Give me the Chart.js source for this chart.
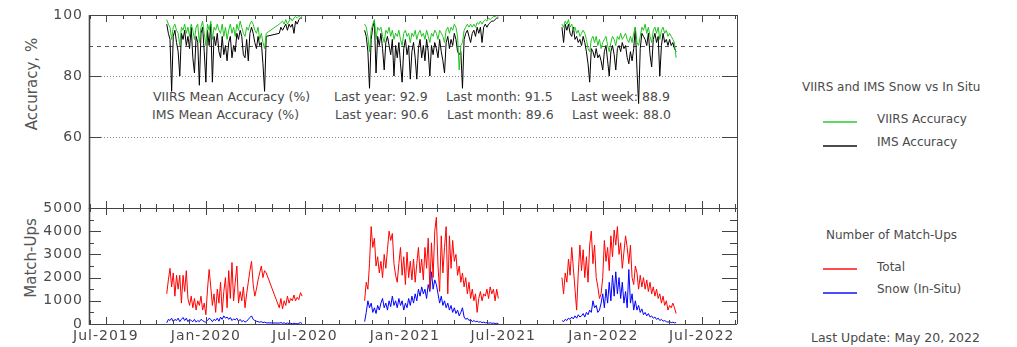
<!DOCTYPE html>
<html>
<head>
<meta charset="utf-8">
<script src="https://cdn.jsdelivr.net/npm/chart.js@4.4.1/dist/chart.umd.min.js"></script>
<style>
  html, body { margin: 0; padding: 0; background: #fff; }
  #wrap { position: relative; width: 1017px; height: 347px; overflow: hidden;
          font-family: 'DejaVu Sans', sans-serif; color: #4a4a4a; }
  #wrap canvas { position: absolute; left: 0; top: 0; }
  .t { position: absolute; white-space: pre; line-height: 1; }
  .sw { position: absolute; height: 2px; width: 34px; }
  .yt { position: absolute; white-space: nowrap; font-size: 15px; line-height: 1;
        transform: translate(-50%, -50%) rotate(-90deg); color: #555; }
</style>
</head>
<body>
<div id="wrap">
  <div id="texts"></div>
  <canvas id="acc" width="1017" height="347"></canvas>
  <canvas id="mu" width="1017" height="347"></canvas>
</div>
<script>
// ---- data: one value every 3 days from each season's first day ----
const seasonStarts = ['2019-10-21', '2020-10-19', '2021-10-17'];
const stepDays = 3;

// VIIRS / IMS snow accuracy vs in-situ (%)
const viirs2020 = [98.5,97,96,92,96,97,95,94,90,96, 95,97,94,96,93,97,95,92,96,97,
  91,96,98,94,90,97,95,98,92,96, 95,97,95,94,97,93,96,92,95,97,
  94,96,93,97,95,98,96,94,93,96, 95,97,98,97,95,94,96,92,94,91,
  89,94,null,null,null,null,null,null,null,97, 97.5,98,97,98.5,97,98,99,98,99,99.5,
  99,99.5,99.8,99.5];
const ims2020 = [97,94,92,75,93,95,91,88,80,94, 92,95,90,93,89,96,86,81,93,91,
  77,94,96,88,78,95,90,97,78,93, 90,94,88,86,93,87,90,85,91,93,
  86,90,88,94,92,95,93,87,86,92, 85,94,96,94,91,89,93,90,91,84,
  75,93,null,null,null,null,null,null,null,94, 96,95,96,97,95,97,96,97,94,98,
  97,98.5,99,99];
const viirs2021 = [97,96,93,88,95,97,98.5,92,96,95, 96,93,91,95,94,96,93,95,92,94,
  93,95,92,90,94,95,93,94,91,94, 93,95,92,94,95,93,94,92,95,93,
  91,94,93,95,94,92,95,94,93,91, 95,96,94,96,95,97,96,93,82,90,
  91,95,96,97,96,97,96,97,96,97.5, 97,98,97,98,98.5,98,99,98.5,99,99.5,
  99.5,99.8,99.5];
const ims2021 = [95,93,88,76,92,96,98,81,93,90, 94,89,82,91,93,90,87,92,80,90,
  86,91,84,78,89,92,87,90,79,88, 91,86,79,89,92,86,90,85,92,88,
  80,90,87,91,89,86,92,88,85,81, 91,93,89,92,90,94,92,88,87,88,
  76,92,94,95,93,91,94,95,93,96, 94,96,91,96,97,96,97,97.5,98,98,
  98.5,99,99];
const viirs2022 = [97,96,98,97,98.5,96,97,95,96,94, 95,93,94,95,94,92,89,88,92,93,
  91,93,90,92,89,91,92,93,90,88, 91,93,92,90,93,92,94,92,93,94,
  92,91,93,91,94,96,91,90,93,96, 95,97,94,96,93,91,95,96,94,96,
  92,95,96,94,95,93,94,93,92,91, 86];
const ims2022 = [96,91,97,95,97,94,93,96,92,93, 91,92,90,93,91,88,84,78,89,88,
  86,89,86,87,85,82,88,90,85,80, 88,90,87,82,89,90,88,91,89,90,
  86,84,88,85,89,96,82,71,89,94, 93,92,90,94,87,83,92,94,91,93,
  80,90,94,91,92,90,92,90,91,89, 88];

// Number of match-ups: total and snow-covered in-situ stations
const total2020 = [1300,1900,2400,1600,2200,1200,2100,1500,2100,900, 2100,1400,2300,1100,800,1200,700,1100,600,1000,
  800,1200,600,900,400,1500,2350,1600,800,1300, 500,1500,900,1800,500,1400,2000,700,2300,1100,
  2650,1000,1800,2500,900,1400,1000,1600,700,1300, 1800,2300,2700,1700,1200,1500,1900,2200,2500,2000,
  2300,2200,null,null,null,null,null,null,null,700, 1100,650,1000,800,1200,900,1100,1000,1250,1000,
  1150,1050,1350,1200];
const snow2020 = [50,200,150,250,100,200,150,250,100,200, 280,150,250,100,200,150,100,200,80,150,
  100,200,150,100,80,150,250,200,100,200, 150,250,120,300,200,350,250,300,200,280,
  150,220,180,250,120,200,100,150,80,120, 200,280,350,200,150,120,100,80,100,60,
  80,50,null,null,null,null,null,null,null,40, 60,30,50,20,40,20,30,10,30,20,
  10,30,60,20];
const total2021 = [1000,1800,1500,2600,4200,3300,3700,2500,2900,2200, 2700,2000,3000,2400,3200,4000,3600,3900,2600,2100,
  1800,2600,3300,2100,2900,1700,3100,2000,2700,1900, 2800,1800,2600,3300,2200,2800,1900,3300,2400,3700,
  1500,3500,2000,4000,4600,2500,1400,3800,2200,3300, 4200,1300,3800,2400,3600,2700,3000,2100,2500,1800,
  2200,1600,2000,1300,1800,1100,1500,1000,1300,500, 1100,1400,1000,1300,1200,1500,1100,1600,1300,1500,
  1000,1500,1100];
const snow2021 = [100,500,1000,700,900,500,700,450,800,600, 900,1100,700,900,600,1000,750,1200,800,1000,
  700,1100,800,1000,600,900,700,1100,800,1200, 900,1300,1000,1500,1200,1600,1300,1500,1100,1700,
  1400,2250,1500,1900,1700,1300,900,1200,800,1000, 700,900,600,800,500,700,450,600,350,500,
  700,300,200,250,150,200,100,150,100,120, 80,100,60,80,50,60,40,50,30,40,
  20,30,20];
const total2022 = [2000,1300,2200,1800,2800,2100,3300,2400,1500,600, 2200,3400,2300,3200,2000,2900,1800,3400,4000,2600,
  3400,2000,1600,1100,1300,2000,3600,2700,3300,2300, 3800,2900,4050,3400,4200,3000,3500,2400,3100,3800,
  3300,2600,3400,2000,1700,2500,2200,1500,2100,1600, 2000,1500,1900,1400,1800,1300,1600,1200,1500,1100,
  1300,900,1200,800,1000,600,800,700,900,700, 450];
const snow2022 = [150,100,200,150,250,200,300,220,350,250, 400,300,350,450,300,500,400,600,500,1000,
  700,800,500,600,900,1300,700,1500,900,1800, 1000,2100,1200,2250,1300,2000,1100,1800,900,1400,
  700,2350,900,1300,600,1000,600,800,500,650, 400,500,350,450,300,350,250,300,200,250,
  150,200,120,150,100,80,100,60,80,50, 60];

// axes and annotations
const accTicks = [60, 80, 100];
const accDashed = [90];
const accDotted = [60, 80];
const matchTicks = [0, 1000, 2000, 3000, 4000, 5000];
const matchMinor = [500, 1500, 2500, 3500, 4500];
const statPeriods = ['Last year', 'Last month', 'Last week'];
const statViirs = [92.9, 91.5, 88.9];
const statIms = [90.6, 89.6, 88.0];
const lastUpdate = 'May 20, 2022';

// ---- helpers ----
const MONTHS = ['Jan','Feb','Mar','Apr','May','Jun','Jul','Aug','Sep','Oct','Nov','Dec'];
const EPOCH = Date.UTC(2019, 6, 1);
const dayOf = s => (Date.UTC(+s.slice(0, 4), +s.slice(5, 7) - 1, +s.slice(8, 10)) - EPOCH) / 864e5;
const xMin = dayOf('2019-05-31');
const xMax = dayOf('2022-09-04');

function series(parts) {
  const pts = [];
  parts.forEach((vals, k) => {
    const d0 = dayOf(seasonStarts[k]);
    vals.forEach((v, i) => { if (v !== null) pts.push({ x: d0 + i * stepDays, y: v }); });
  });
  return pts;
}

// month ticks, labelled at January and July
const monthTicks = [];
for (let y = 2019, m = 5; y < 2022 || (y === 2022 && m <= 8); m++) {
  if (m > 11) { m = 0; y++; }
  const day = (Date.UTC(y, m, 1) - EPOCH) / 864e5;
  if (day >= xMin && day <= xMax) {
    const major = (m === 0 || m === 6);
    monthTicks.push({ day, major, label: major ? MONTHS[m] + '-' + y : '' });
  }
}

// wider letter spacing for the axis labels
const spacing = {
  id: 'spacing',
  beforeDraw(chart) { chart.ctx.letterSpacing = '1px'; }
};

// frame, inward tick marks and reference lines
const frame = {
  id: 'frame',
  beforeDatasetsDraw(chart, args, o) {
    const { ctx, chartArea: a, scales: { y } } = chart;
    ctx.save();
    (o.refLines || []).forEach(r => {
      const py = Math.round(y.getPixelForValue(r.v)) + 0.5;
      ctx.strokeStyle = r.color; ctx.lineWidth = 1; ctx.setLineDash(r.dash);
      ctx.beginPath(); ctx.moveTo(a.left, py); ctx.lineTo(a.right, py); ctx.stroke();
    });
    ctx.restore();
  },
  afterDatasetsDraw(chart, args, o) {
    const { ctx, chartArea: a, scales: { x, y } } = chart;
    ctx.save();
    ctx.strokeStyle = '#444'; ctx.lineWidth = 1; ctx.setLineDash([]);
    ctx.beginPath();
    monthTicks.forEach(t => {
      const px = Math.round(x.getPixelForValue(t.day)) + 0.5;
      const len = t.major ? 7 : 4;
      ctx.moveTo(px, a.top); ctx.lineTo(px, a.top + len);
      ctx.moveTo(px, a.bottom); ctx.lineTo(px, a.bottom - len);
    });
    (o.yMajor || []).forEach(v => {
      const py = Math.round(y.getPixelForValue(v)) + 0.5;
      ctx.moveTo(a.left, py); ctx.lineTo(a.left + 12, py);
      ctx.moveTo(a.right, py); ctx.lineTo(a.right - 15, py);
    });
    (o.yMinor || []).forEach(v => {
      const py = Math.round(y.getPixelForValue(v)) + 0.5;
      ctx.moveTo(a.left, py); ctx.lineTo(a.left + 5, py);
      ctx.moveTo(a.right, py); ctx.lineTo(a.right - 7, py);
    });
    ctx.moveTo(a.left, a.top + 0.5); ctx.lineTo(a.right, a.top + 0.5);
    ctx.moveTo(a.left, a.bottom + 0.5); ctx.lineTo(a.right, a.bottom + 0.5);
    ctx.moveTo(a.right + 0.5, a.top); ctx.lineTo(a.right + 0.5, a.bottom);
    ctx.stroke();
    ctx.lineWidth = 1.6;
    ctx.beginPath(); ctx.moveTo(a.left + 0.5, a.top); ctx.lineTo(a.left + 0.5, a.bottom + 1); ctx.stroke();
    ctx.restore();
  }
};

Chart.defaults.font.family = "'DejaVu Sans', sans-serif";
Chart.defaults.color = '#4a4a4a';

const line = (data, color) => ({
  data, borderColor: color, borderWidth: 1, pointRadius: 0, tension: 0, spanGaps: 45
});
const common = {
  responsive: false, animation: false, events: [],
  plugins: { legend: { display: false }, tooltip: { enabled: false } }
};
const plainTicks = { padding: 6, font: { size: 14 }, color: '#4a4a4a', callback: v => String(v) };

// accuracy panel
new Chart(document.getElementById('acc'), {
  type: 'line',
  data: { datasets: [
    line(series([viirs2020, viirs2021, viirs2022]), '#1fc41f'),
    line(series([ims2020, ims2021, ims2022]), '#000000')
  ] },
  options: {
    ...common,
    layout: { padding: { left: 0, top: 15, right: 280, bottom: 139 } },
    plugins: { ...common.plugins, frame: {
      yMajor: accTicks,
      refLines: [
        ...accDashed.map(v => ({ v, dash: [4, 4], color: '#555' })),
        ...accDotted.map(v => ({ v, dash: [1, 2], color: '#888' }))
      ]
    } },
    scales: {
      x: { type: 'linear', min: xMin, max: xMax, display: false },
      y: {
        min: 36.8, max: 100,
        afterBuildTicks: s => { s.ticks = accTicks.map(v => ({ value: v })); },
        afterFit: s => { s.width = 89; },
        grid: { display: false, drawTicks: false }, border: { display: false },
        ticks: plainTicks
      }
    }
  },
  plugins: [spacing, frame]
});

// match-up panel
new Chart(document.getElementById('mu'), {
  type: 'line',
  data: { datasets: [
    line(series([total2020, total2021, total2022]), '#ff0000'),
    line(series([snow2020, snow2021, snow2022]), '#0000ff')
  ] },
  options: {
    ...common,
    layout: { padding: { left: 0, top: 208, right: 280, bottom: 0 } },
    plugins: { ...common.plugins, frame: { yMajor: matchTicks, yMinor: matchMinor } },
    scales: {
      x: {
        type: 'linear', min: xMin, max: xMax,
        afterBuildTicks: s => { s.ticks = monthTicks.map(t => ({ value: t.day })); },
        afterFit: s => { s.height = 23; },
        grid: { display: false, drawTicks: false }, border: { display: false },
        ticks: { autoSkip: false, maxRotation: 0, padding: 4, font: { size: 14 }, color: '#4a4a4a',
                 callback: (v, i) => monthTicks[i].label }
      },
      y: {
        min: 0, max: 5000,
        afterBuildTicks: s => { s.ticks = matchTicks.map(v => ({ value: v })); },
        afterFit: s => { s.width = 89; },
        grid: { display: false, drawTicks: false }, border: { display: false },
        ticks: plainTicks
      }
    }
  },
  plugins: [spacing, frame]
});

// ---- text: axis titles, mean accuracy, legends ----
const box = document.getElementById('texts');
function text(str, left, cy, size) {
  const d = document.createElement('div');
  d.className = 't'; d.textContent = str;
  d.style.left = left + 'px'; d.style.top = (cy - 0.48 * size) + 'px'; d.style.fontSize = size + 'px';
  box.appendChild(d);
}
function swatch(color, left, cy) {
  const d = document.createElement('div');
  d.className = 'sw'; d.style.background = color; d.style.opacity = 0.7;
  d.style.left = left + 'px'; d.style.top = (cy - 1) + 'px';
  box.appendChild(d);
}
function ytitle(str, cx, cy) {
  const d = document.createElement('div');
  d.className = 'yt'; d.textContent = str;
  d.style.left = cx + 'px'; d.style.top = cy + 'px';
  box.appendChild(d);
}
ytitle('Accuracy, %', 32, 84);
ytitle('Match-Ups', 31, 258);

const statLeft = [334, 446, 571];
text('VIIRS Mean Accuracy (%)', 153, 97, 12.5);
text('IMS Mean Accuracy (%)', 152, 115, 12.5);
statPeriods.forEach((p, k) => {
  text(p + ': ' + statViirs[k].toFixed(1), statLeft[k], 97, 12.5);
  text(p + ': ' + statIms[k].toFixed(1), statLeft[k] + 1, 115, 12.5);
});

text('VIIRS and IMS Snow vs In Situ', 802, 87, 12);
swatch('#1fc41f', 823, 122); text('VIIRS Accuracy', 877, 119, 12);
swatch('#000000', 823, 146); text('IMS Accuracy', 877, 142, 12);
text('Number of Match-Ups', 826, 235, 12);
swatch('#ff0000', 823, 269); text('Total', 877, 267, 12);
swatch('#0000ff', 823, 293); text('Snow (In-Situ)', 877, 289, 12);
text('Last Update: ' + lastUpdate, 811, 338, 12.5);
</script>
</body>
</html>
